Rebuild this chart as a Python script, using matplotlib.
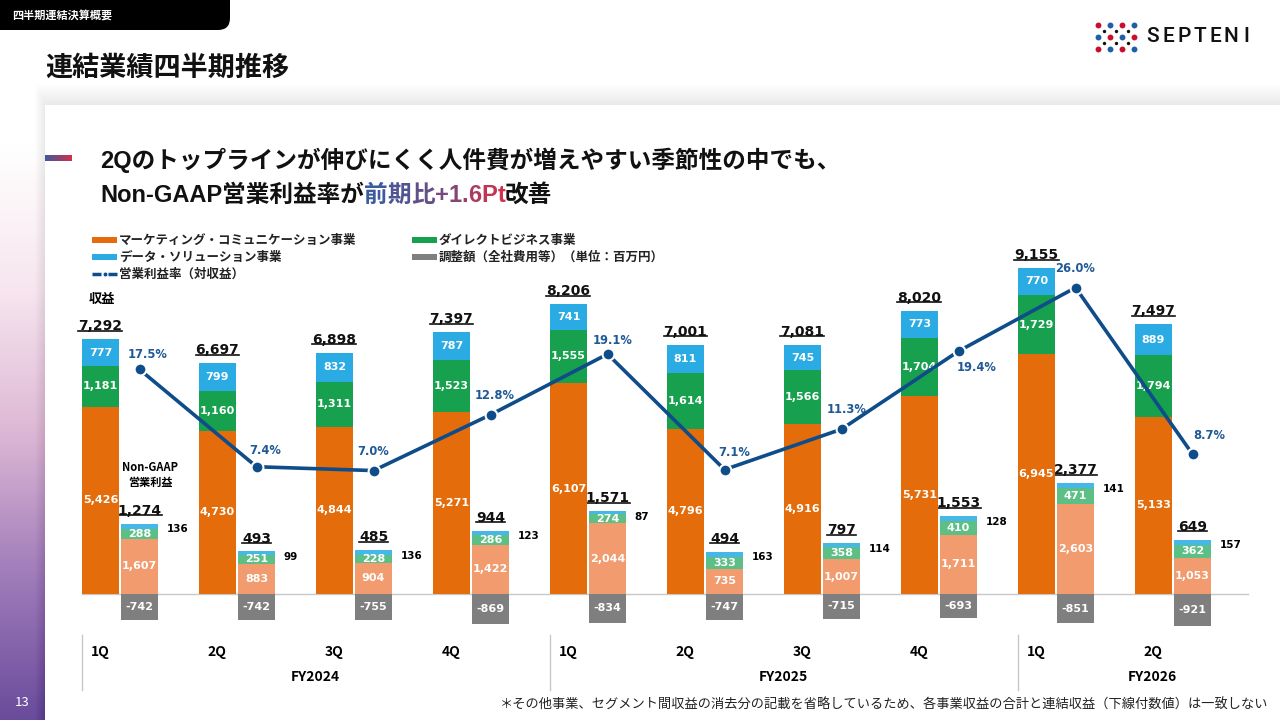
import matplotlib
matplotlib.use("Agg")
import matplotlib.pyplot as plt
import numpy as np
from matplotlib.colors import LinearSegmentedColormap, to_rgb
from matplotlib.patches import FancyBboxPatch, Rectangle
from matplotlib.transforms import blended_transform_factory

plt.rcParams["font.family"] = ["Noto Sans CJK JP", "DejaVu Sans"]

# ---- data (単位：百万円) ----
quarters = ["1Q", "2Q", "3Q", "4Q", "1Q", "2Q", "3Q", "4Q", "1Q", "2Q"]
fiscal_years = ["FY2024", "FY2025", "FY2026"]
quarters_per_year = [4, 4, 2]

revenue_total = [7292, 6697, 6898, 7397, 8206, 7001, 7081, 8020, 9155, 7497]
revenue_marketing = [5426, 4730, 4844, 5271, 6107, 4796, 4916, 5731, 6945, 5133]
revenue_direct = [1181, 1160, 1311, 1523, 1555, 1614, 1566, 1704, 1729, 1794]
revenue_data = [777, 799, 832, 787, 741, 811, 745, 773, 770, 889]

op_total = [1274, 493, 485, 944, 1571, 494, 797, 1553, 2377, 649]
op_marketing = [1607, 883, 904, 1422, 2044, 735, 1007, 1711, 2603, 1053]
op_direct = [288, 251, 228, 286, 274, 333, 358, 410, 471, 362]
op_data = [136, 99, 136, 123, 87, 163, 114, 128, 141, 157]
op_adjustment = [-742, -742, -755, -869, -834, -747, -715, -693, -851, -921]

op_margin = [17.5, 7.4, 7.0, 12.8, 19.1, 7.1, 11.3, 19.4, 26.0, 8.7]

legend_names = ["マーケティング・コミュニケーション事業", "ダイレクトビジネス事業",
                "データ・ソリューション事業", "調整額（全社費用等）（単位：百万円）",
                "営業利益率（対収益）"]

# label offsets for the margin values (points), picked by eye
margin_label_offsets = [(6, 10.5), (6.5, 11.5), (0, 13.5), (3, 14), (3.5, 9.5),
                        (7, 12), (4, 14), (13, -11.5), (0, 13.5), (12, 13.5)]

W, H = 1280, 720
ORANGE = "#E46C0A"
GREEN = "#17A04E"
BLUE = "#2AABE3"
ORANGE_LT = "#F19B6E"
GREEN_LT = "#5CBF85"
BLUE_LT = "#45B8E8"
GRAY = "#7F7F7F"
LINE = "#0F4C8A"
NUM = "DejaVu Sans"
HEAD = ["Liberation Sans", "Noto Sans CJK JP", "DejaVu Sans"]

fig = plt.figure(figsize=(W / 100, H / 100), dpi=100, facecolor="white")

# background layer in pixel coordinates
bg = fig.add_axes([0, 0, 1, 1])
bg.set_zorder(0)
strip_cmap = LinearSegmentedColormap.from_list(
    "strip", ["#FFFFFF", "#FFFFFF", "#F7E6EF", "#DDB8D5", "#A07CBA", "#6A4C9C"])
bg.imshow(np.linspace(0, 1, 300)[:, None], cmap=strip_cmap, aspect="auto",
          extent=[0, 45, H, 0], zorder=0)
for k in range(1, 22):
    bg.add_patch(Rectangle((45 - k * 0.5, 105 - k), W, H, fc="black", alpha=0.003, lw=0, zorder=1))
bg.add_patch(Rectangle((45, 105), W, H, fc="white", lw=0, zorder=2))
bg.add_patch(FancyBboxPatch((-20, -20), 250, 50, boxstyle="round,pad=0,rounding_size=12",
                            fc="black", lw=0, zorder=3))
bg.set_xlim(0, W)
bg.set_ylim(H, 0)
bg.axis("off")

bg.text(12, 15, "四半期連結決算概要", color="white", fontsize=8, fontweight="bold", va="center")
bg.text(45, 68, "連結業績四半期推移", fontsize=19.5, fontweight="bold", va="center", color="#111111")
bg.text(22, 702, "13", color="white", fontsize=9.5, ha="center", va="center")

# logo
dot_cols = [1098, 1110, 1122, 1134]
dot_rows = [25, 37, 49]
for r, yy in enumerate(dot_rows):
    for c, xx in enumerate(dot_cols):
        bg.scatter(xx, yy, s=18, color="#C8102E" if (r + c) % 2 == 0 else "#1F5FA8", lw=0, zorder=4)
for yy in [31, 43]:
    for xx in [1104, 1116, 1128]:
        bg.scatter(xx, yy, s=6, color="#111111", lw=0, zorder=4)
for i, ch in enumerate("SEPTENI"):
    bg.text(1153 + i * 15.6, 37, ch, fontsize=15, family="Roboto", fontweight="medium",
            ha="center", va="center", color="#111111")

# subtitle
bg.imshow(np.linspace(0, 1, 50)[None, :],
          cmap=LinearSegmentedColormap.from_list("mk", ["#3D5A9C", "#D3304A"]),
          aspect="auto", extent=[45, 72, 161, 155], zorder=4)
bg.set_xlim(0, W)
bg.set_ylim(H, 0)
bg.text(100, 160, "2Qのトップラインが伸びにくく人件費が増えやすい季節性の中でも、",
        fontsize=17, fontweight="bold", va="center", color="#111111", family=HEAD)
renderer = fig.canvas.get_renderer()
t = bg.text(100, 195, "Non-GAAP営業利益率が", fontsize=17, fontweight="bold", va="center",
            color="#111111", family=HEAD)
cursor = t.get_window_extent(renderer).x1
grad_word = "前期比+1.6Pt"
c0, c1 = np.array(to_rgb("#3D5A9C")), np.array(to_rgb("#D3304A"))
for i, ch in enumerate(grad_word):
    col = c0 + (c1 - c0) * i / (len(grad_word) - 1)
    t = bg.text(cursor, 195, ch, fontsize=17, fontweight="bold", va="center", color=col,
                family=HEAD)
    cursor = t.get_window_extent(renderer).x1
bg.text(cursor, 195, "改善", fontsize=17, fontweight="bold", va="center", color="#111111",
        family=HEAD)

# legend
legend_pos = [(92, 240), (412, 240), (92, 257), (412, 257), (92, 274)]
legend_cols = [ORANGE, GREEN, BLUE, GRAY, None]
for (lx, ly), name, col in zip(legend_pos, legend_names, legend_cols):
    if col is None:
        bg.plot([lx, lx + 9], [ly, ly], color=LINE, lw=2.5, solid_capstyle="butt", zorder=4)
        bg.plot([lx + 16, lx + 25], [ly, ly], color=LINE, lw=2.5, solid_capstyle="butt", zorder=4)
        bg.scatter(lx + 12.5, ly, s=8, color=LINE, lw=0, zorder=4)
    else:
        bg.add_patch(Rectangle((lx, ly - 3), 25, 6, fc=col, lw=0, zorder=4))
    bg.text(lx + 27, ly, name, fontsize=9, fontweight="bold", va="center", color="#222222")

bg.text(102, 299, "収益", fontsize=9.5, fontweight="bold", ha="center", va="center")
bg.text(150, 475, "Non-GAAP\n営業利益", fontsize=8, fontweight="bold", ha="center", va="center",
        linespacing=1.15)
bg.text(1268, 705,
        "＊その他事業、セグメント間収益の消去分の記載を省略しているため、各事業収益の合計と連結収益（下線付数値）は一致しない",
        fontsize=9.5, ha="right", va="center", color="#222222")

# main chart
ax = fig.add_axes([80 / W, 1 - 640 / H, 1170 / W, 410 / H])
ax.set_zorder(2)
ax.patch.set_visible(False)
ax.set_xlim(-0.342, 9.658)
ax.set_ylim(-1333, 10551)
ax.axis("off")

x = np.arange(len(quarters))
bw = 0.316
rev_x = x - 0.167
op_x = x + 0.167

ax.plot([-0.325, 9.64], [0, 0], color="#C8C8C8", lw=1, zorder=1)

seg_font = dict(color="white", fontsize=8, fontweight="bold", family=NUM)
bottom = np.zeros(len(x))
for vals, col in [(revenue_marketing, ORANGE), (revenue_direct, GREEN), (revenue_data, BLUE)]:
    bars = ax.bar(rev_x, vals, bw, bottom=bottom, color=col, zorder=2)
    ax.bar_label(bars, labels=[f"{v:,}" for v in vals], label_type="center", **seg_font)
    bottom = bottom + np.array(vals)
rev_tops = bottom

bottom = np.zeros(len(x))
for vals, col, show in [(op_marketing, ORANGE_LT, True), (op_direct, GREEN_LT, True),
                        (op_data, BLUE_LT, False)]:
    bars = ax.bar(op_x, vals, bw, bottom=bottom, color=col, zorder=2)
    if show:
        ax.bar_label(bars, labels=[f"{v:,}" for v in vals], label_type="center", **seg_font)
    bottom = bottom + np.array(vals)
op_tops = bottom
bars = ax.bar(op_x, op_adjustment, bw, color=GRAY, zorder=2)
ax.bar_label(bars, labels=[f"{v:,}" for v in op_adjustment], label_type="center", **seg_font)

for xi, top, v in zip(op_x, op_tops, op_data):
    ax.annotate(f"{v:,}", (xi + bw / 2, top), xytext=(6, -4), textcoords="offset points",
                ha="left", va="center", fontsize=7.5, fontweight="bold", family=NUM)

underlined = []
for xs, tops, totals in [(rev_x, rev_tops, revenue_total), (op_x, op_tops, op_total)]:
    for xi, top, v in zip(xs, tops, totals):
        underlined.append(ax.annotate(f"{v:,}", (xi, top), xytext=(0, 4.3),
                                      textcoords="offset points", ha="center", va="bottom",
                                      fontsize=10, fontweight="bold", family=NUM,
                                      color="#111111"))

ax2 = ax.twinx()
ax2.set_zorder(3)
ax2.set_ylim(-10.59, 31.98)
ax2.axis("off")
ax2.plot(op_x, op_margin, color=LINE, lw=2.6, marker="o", ms=8.5, mec="white", mew=1.5)
for xi, v, off in zip(op_x, op_margin, margin_label_offsets):
    ax2.annotate(f"{v:.1f}%", (xi, v), xytext=off, textcoords="offset points", ha="center",
                 va="center", color="#1F5A96", fontsize=8.3, fontweight="bold", family=NUM)

# quarter / fiscal year axis
xq = blended_transform_factory(ax.transData, bg.transData)
for xi, q in zip(rev_x, quarters):
    bg.text(xi, 652, q, transform=xq, fontsize=10, fontweight="bold", ha="center", va="center")
start = 0
for fy, n in zip(fiscal_years, quarters_per_year):
    left = start - 0.325
    bg.plot([left, left], [635, 690], transform=xq, color="#C8C8C8", lw=1)
    bg.text(left + n / 2 - 0.005 + (0.15 if n < 4 else 0), 677, fy, transform=xq, fontsize=10,
            fontweight="bold", ha="center", va="center")
    start += n

# underlines under the total figures
fig.canvas.draw()
for t in underlined:
    bb = t.get_window_extent(renderer)
    yy = H - bb.y0 - 2.5
    bg.plot([bb.x0, bb.x1], [yy, yy], color="#111111", lw=1.2, zorder=5)
bg.set_xlim(0, W)
bg.set_ylim(H, 0)

fig.savefig("out.png", dpi=100)
